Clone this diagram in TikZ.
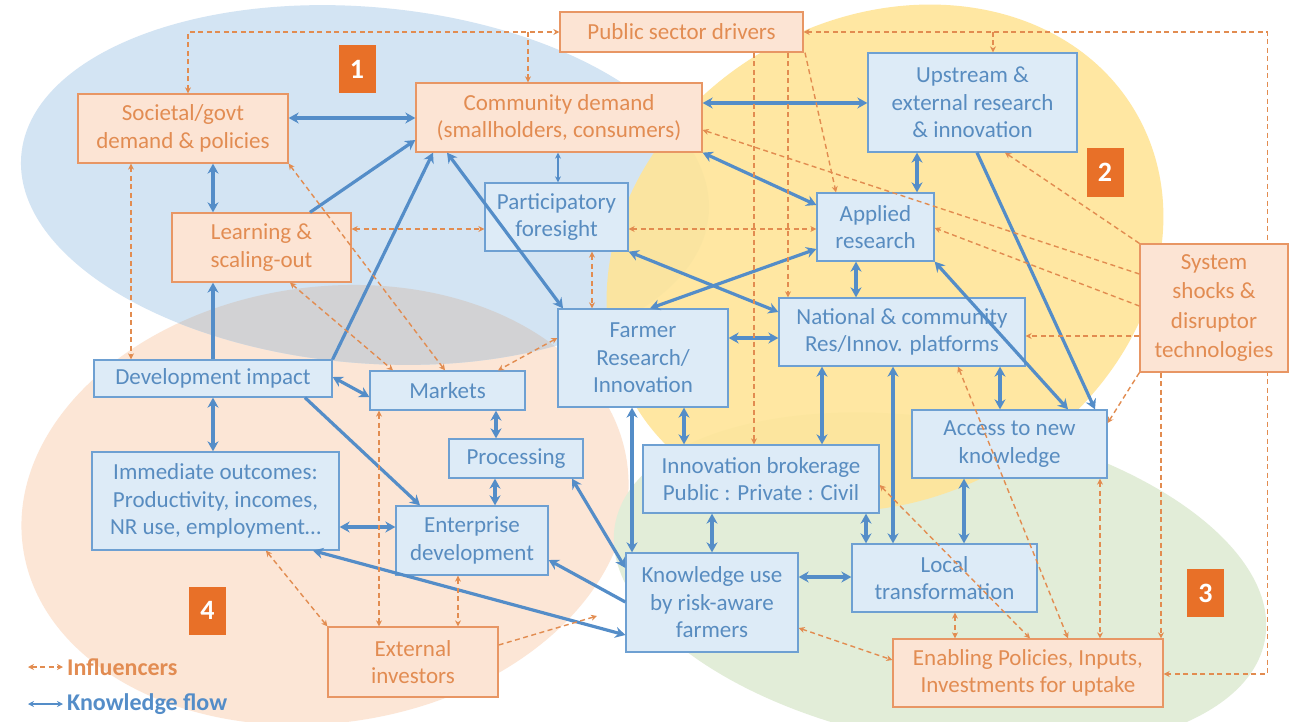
\documentclass[tikz,border=0pt]{standalone}
\usepackage{fontspec}
\setmainfont{Carlito}
\usetikzlibrary{arrows.meta,calc}
\pgfdeclarelayer{bg}
\pgfsetlayers{bg,main}
\definecolor{kblue}{RGB}{84,141,200}
\definecolor{btext}{RGB}{88,140,192}
\definecolor{bfill}{RGB}{221,235,247}
\definecolor{bdraw}{RGB}{110,160,210}
\definecolor{ofill}{RGB}{252,228,212}
\definecolor{odraw}{RGB}{232,150,100}
\definecolor{otext}{RGB}{226,140,82}
\definecolor{iline}{RGB}{226,140,80}
\definecolor{numor}{RGB}{232,112,40}
\definecolor{bgblue}{RGB}{211,228,243}
\definecolor{bgorange}{RGB}{252,230,214}
\definecolor{bggrey}{RGB}{210,210,212}
\definecolor{bgyellow}{RGB}{255,229,152}
\definecolor{bggreen}{RGB}{226,237,216}
\begin{document}
\begin{tikzpicture}[x=1pt,y=-1pt,
 wh/.style 2 args={minimum width=#1pt, minimum height=#2pt},
 boxfont/.style={font=\fontsize{23}{27.5}\selectfont},
 bbox/.style={draw=bdraw, line width=1.3pt, fill=bfill, text=btext, align=center, inner sep=0pt, boxfont},
 obox/.style={draw=odraw, line width=1.3pt, fill=ofill, text=otext, align=center, inner sep=0pt, boxfont},
 numbox/.style={fill=numor, text=white, font=\fontsize{28}{28}\selectfont\bfseries, minimum width=37pt, minimum height=48pt, inner sep=0pt},
 kf/.style={draw=kblue, line width=3.2pt, {Stealth[length=10pt,width=11pt]}-{Stealth[length=10pt,width=11pt]}},
 kfa/.style={draw=kblue, line width=3.2pt, -{Stealth[length=10pt,width=11pt]}},
 kft/.style={draw=kblue, line width=1.3pt, {Stealth[length=6pt,width=6pt]}-{Stealth[length=6pt,width=6pt]}},
 inf/.style={draw=iline, line width=1.4pt, dash pattern=on 5pt off 3.5pt, {Stealth[length=6pt,width=6pt]}-{Stealth[length=6pt,width=6pt]}},
 infa/.style={draw=iline, line width=1.4pt, dash pattern=on 5pt off 3.5pt, -{Stealth[length=6pt,width=6pt]}},
]
\useasboundingbox (0,0) rectangle (1289,722);
\begin{pgfonlayer}{bg}
\fill[white] (0,0) rectangle (1289,722);
% background ellipses
\fill[bgorange, rotate around={8:(325,505)}] (325,505) ellipse [x radius=305pt, y radius=218pt];
\fill[bggreen, rotate around={-10:(940,582)}] (940,582) ellipse [x radius=330pt, y radius=162pt];
\fill[bgblue, rotate around={-5:(365,185)}] (365,185) ellipse [x radius=345pt, y radius=178pt];
\begin{scope}
\clip[rotate around={-5:(365,185)}] (365,185) ellipse [x radius=345pt, y radius=178pt];
\fill[bggrey, rotate around={8:(325,505)}] (325,505) ellipse [x radius=305pt, y radius=218pt];
\end{scope}
\fill[bgyellow, opacity=0.9, rotate around={30:(885,258)}] (885,258) ellipse [x radius=290pt, y radius=240pt];
\end{pgfonlayer}

% number labels
\node[numbox] (n1) at (357,69.5) {1};
\node[numbox] (n2) at (1105,172.5) {2};
\node[numbox] (n3) at (1205.5,593) {3};
\node[numbox] (n4) at (207.5,610.5) {4};

% nodes
\node[obox, wh={243}{40}] (pub) at (681.5,32) {Public sector drivers};
\node[obox, wh={210}{69}] (soc) at (183,128.5) {Societal/govt\\demand \& policies};
\node[obox, wh={286}{69}] (comm) at (559,117.5) {Community demand\\(smallholders, consumers)};
\node[bbox, wh={209}{99}] (up) at (972.5,102.5) {Upstream \&\\external research\\\& innovation};
\node[bbox, wh={143}{68}] (part) at (556.5,217) {Participatory\\foresight};
\node[obox, wh={179}{69}] (learn) at (261.5,247.5) {Learning \&\\scaling-out};
\node[bbox, wh={117}{68}] (appl) at (875.5,227) {Applied\\research};
\node[bbox, wh={170}{98}] (farm) at (643,358) {Farmer\\Research/\\Innovation};
\node[bbox, wh={246}{68}] (nat) at (902,332) {National \& community\\Res/Innov. platforms};
\node[obox, wh={148}{128}, font=\fontsize{23}{29.5}\selectfont] (sys) at (1214,308) {System\\shocks \&\\disruptor\\technologies};
\node[bbox, wh={238}{37}] (dev) at (213,378.5) {Development impact};
\node[bbox, wh={155}{39}] (mkt) at (447.5,390.5) {Markets};
\node[bbox, wh={195}{68}] (acc) at (1009.5,444) {Access to new\\knowledge};
\node[bbox, wh={134}{39}] (proc) at (516,458.5) {Processing};
\node[bbox, wh={236}{68}] (brok) at (761,479) {Innovation brokerage\\Public : Private : Civil};
\node[bbox, wh={247}{98}] (imm) at (215.5,501) {Immediate outcomes:\\Productivity, incomes,\\NR use, employment…};
\node[bbox, wh={152}{69}] (ent) at (472,540.5) {Enterprise\\development};
\node[bbox, wh={172}{99}] (kuse) at (712,602.5) {Knowledge use\\by risk-aware\\farmers};
\node[bbox, wh={185}{68}] (loc) at (944.5,578) {Local\\transformation};
\node[obox, wh={170}{70}] (ext) at (413,662) {External\\investors};
\node[obox, wh={270}{68}] (enab) at (1028,673) {Enabling Policies, Inputs,\\Investments for uptake};

% long outer connector drawn below boxes
\begin{pgfonlayer}{bg}
\draw[inf] (pub.east) -- ++(464,0) |- (enab.east |- 0,674);
\end{pgfonlayer}

% knowledge flow connectors
\draw[kf] (soc.east |- 0,118) -- (comm.west |- 0,118);
\draw[kf] (comm.east |- 0,103) -- (up.west |- 0,103);
\draw[kf] (soc.south -| 213,0) -- (learn.north -| 213,0);
\draw[kfa] (learn.north -| 310,0) -- (comm.west |- 0,140);
\draw[kfa] (dev.north east) -- (comm.south -| 433,0);
\draw[kf] (comm.south -| 447,0) -- (farm.north -| 563,0);
\draw[kf] (comm.south east) -- (appl.west |- 0,205);
\draw[kf] (up.south -| 917,0) -- (appl.north -| 917,0);
\draw[kfa] (up.south -| 977,0) -- (acc.north -| 1095,0);
\draw[kf] (appl.south east) -- (acc.north -| 1068,0);
\draw[kf] (appl.west |- 0,249) -- (farm.north -| 650,0);
\draw[kf] (part.south east) -- (nat.west |- 0,312);
\draw[kf] (appl.south -| 856,0) -- (nat.north -| 856,0);
\draw[kf] (farm.east |- 0,338) -- (nat.west |- 0,338);
\draw[kfa] (dev.north -| 213,0) -- (learn.south -| 213,0);
\draw[kf] (dev.east |- 0,377) -- (mkt.west |- 0,397);
\draw[kf] (dev.south -| 213,0) -- (imm.north -| 213,0);
\draw[kfa] (dev.south -| 305,0) -- (ent.north -| 420,0);
\draw[kf] (mkt.south -| 496,0) -- (proc.north -| 496,0);
\draw[kf] (proc.south -| 495,0) -- (ent.north -| 495,0);
\draw[kf] (imm.east |- 0,527) -- (ent.west |- 0,527);
\draw[kf] (imm.south -| 313,0) -- (kuse.west |- 0,635);
\draw[kf] (proc.south -| 572,0) -- (kuse.west |- 0,568);
\draw[kfa] (kuse.west |- 0,602) -- (ent.east |- 0,560);
\draw[kf] (farm.south -| 632,0) -- (kuse.north -| 632,0);
\draw[kf] (farm.south -| 684,0) -- (brok.north -| 684,0);
\draw[kf] (nat.south -| 822,0) -- (brok.north -| 822,0);
\draw[kf] (nat.south -| 893,0) -- (loc.north -| 893,0);
\draw[kf] (nat.south -| 1000,0) -- (acc.north -| 1000,0);
\draw[kf] (brok.south -| 712,0) -- (kuse.north -| 712,0);
\draw[kf] (brok.south -| 866,0) -- (loc.north -| 866,0);
\draw[kf] (acc.south -| 964,0) -- (loc.north -| 964,0);
\draw[kf] (kuse.east |- 0,577) -- (loc.west |- 0,577);
\draw[kft] (comm.south -| 558,0) -- (part.north -| 558,0);

% influencer connectors
\draw[inf] (soc.north -| 188,0) |- (pub.west);
\draw[infa] (pub.west -| 528,0) -- (comm.north -| 528,0);
\draw[infa] (pub.east -| 993,0) -- (up.north -| 993,0);
\draw[infa] (pub.south -| 754,0) -- (brok.north -| 754,0);
\draw[infa] (pub.south -| 788,0) -- (nat.north -| 788,0);
\draw[infa] (pub.south -| 805,0) -- (appl.north -| 836,0);
\draw[infa] (sys.west |- 0,274) -- (comm.east |- 0,130);
\draw[infa] (sys.north west) -- (up.south -| 1005,0);
\draw[infa] (sys.west |- 0,306) -- (appl.east |- 0,228);
\draw[infa] (sys.west |- 0,336) -- (nat.east |- 0,336);
\draw[infa] (sys.south west) -- (acc.east |- 0,423);
\draw[infa] (sys.south -| 1161,0) -- (enab.north -| 1161,0);
\draw[inf] (acc.south -| 1100,0) -- (enab.north -| 1100,0);
\draw[inf] (loc.south -| 955,0) -- (enab.north -| 955,0);
\draw[inf] (kuse.east |- 0,628) -- (enab.west |- 0,660);
\draw[inf] (brok.east |- 0,485) -- (enab.north -| 1030,0);
\draw[inf] (nat.south -| 958,0) -- (enab.north -| 1068,0);
\draw[inf] (learn.east |- 0,229) -- (part.west |- 0,229);
\draw[inf] (part.east |- 0,229) -- (appl.west |- 0,229);
\draw[inf] (soc.south -| 131,0) -- (dev.north -| 131,0);
\draw[inf] (learn.south -| 290,0) -- (mkt.north -| 393,0);
\draw[inf] (soc.south east) -- (mkt.north -| 445,0);
\draw[inf] (farm.west |- 0,338) -- (mkt.north -| 498,0);
\draw[inf] (part.south -| 592,0) -- (farm.north -| 592,0);
\draw[inf] (mkt.south -| 379,0) -- (ext.north -| 379,0);
\draw[inf] (imm.south -| 266,0) -- (ext.north west);
\draw[inf] (ent.south -| 458,0) -- (ext.north -| 458,0);
\coordinate (extend) at (597,616);
\draw[infa] (ext.east |- 0,645) -- (extend);

% legend
\coordinate (la1) at (28,667); \coordinate (la2) at (63,667);
\coordinate (lb1) at (28,704); \coordinate (lb2) at (63,704);
\draw[inf] (la1) -- (la2);
\draw[kft] (lb1) -- (lb2);
\node[anchor=west, text=otext, font=\fontsize{24}{24}\selectfont\bfseries, inner sep=0pt] (lega) at (67,667) {Influencers};
\node[anchor=west, text=kblue, font=\fontsize{24}{24}\selectfont\bfseries, inner sep=0pt] (legb) at (67,704) {Knowledge flow};
\end{tikzpicture}
\end{document}
